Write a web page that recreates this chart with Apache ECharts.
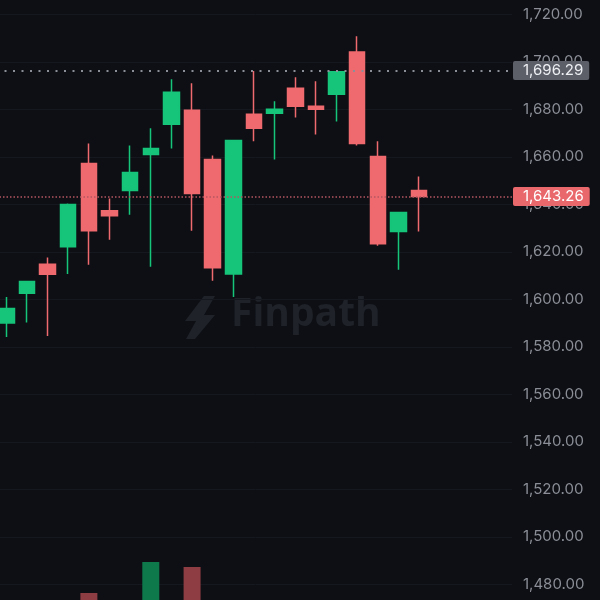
<!DOCTYPE html>
<html>
<head>
<meta charset="utf-8">
<script src="https://cdn.jsdelivr.net/npm/echarts@6/dist/echarts.min.js"></script>
<style>
html,body{margin:0;padding:0;background:#0d0f14;}
#main{width:600px;height:600px;}
</style>
</head>
<body>
<div id="main"></div>
<script>
// categories (sessions); last 4 are empty slots on the right
const categories = ['d1','d2','d3','d4','d5','d6','d7','d8','d9','d10','d11','d12','d13','d14','d15','d16','d17','d18','d19','d20','d21','e1','e2','e3','e4'];
// OHLC values: [open, close, low, high]
const opens  = [1590.0,1602.6,1614.8,1622.1,1657.2,1637.3,1645.8,1661.0,1673.7,1679.6,1658.9,1610.7,1677.9,1678.3,1688.9,1681.3,1686.3,1704.1,1660.1,1628.5,1645.8];
const closes = [1596.1,1607.5,1610.6,1639.9,1628.9,1635.2,1653.4,1663.5,1687.2,1644.5,1613.3,1666.9,1672.0,1680.0,1681.3,1680.0,1695.8,1665.6,1623.4,1636.5,1643.26];
const lows   = [1584.1,1590.2,1584.5,1610.7,1614.5,1625.1,1635.6,1613.7,1663.5,1628.9,1607.8,1601.0,1666.5,1658.9,1676.6,1669.4,1674.9,1664.8,1622.6,1612.4,1628.5];
const highs  = [1601.0,1607.5,1617.6,1640.3,1665.6,1642.4,1664.8,1672.0,1692.7,1691.0,1660.6,1666.9,1696.1,1683.4,1693.5,1691.8,1695.8,1710.8,1666.5,1636.5,1651.7];
// volume (relative units); only the tallest bars reach into view
const volumes = [40,35,45,60,87,30,50,118,70,113,75,78,45,30,35,28,55,72,65,50,25];
// price reference lines
const refPrev = 1696.29;
const lastPrice = 1643.26;
// y axis ticks
const yMin = 1480, yMax = 1720, yStep = 20;

const GREEN = '#16c47a', RED = '#ef6a6e';
const fmt = v => v.toLocaleString('en-US',{minimumFractionDigits:2, maximumFractionDigits:2});
const candleData = categories.map((c,i) => i < opens.length ? [opens[i], closes[i], lows[i], highs[i]] : '-');
const volData = categories.map((c,i) => i < volumes.length ? {
  value: volumes[i],
  itemStyle: { color: closes[i] >= opens[i] ? '#0e7a4c' : '#8e3d43' }
} : '-');

const chart = echarts.init(document.getElementById('main'), null, {renderer:'canvas'});
chart.setOption({
  backgroundColor: '#0d0f14',
  animation: false,
  grid: [
    { left: -4, right: 88, top: 14.3, bottom: 15.7, outerBoundsMode:'none', containLabel:false },
    { left: -4, right: 88, top: 540, bottom: 0, outerBoundsMode:'none', containLabel:false }
  ],
  xAxis: [
    { type:'category', data: categories, gridIndex:0, boundaryGap:true, show:false },
    { type:'category', data: categories, gridIndex:1, boundaryGap:true, show:false }
  ],
  yAxis: [
    {
      type:'value', gridIndex:0, position:'right', min:yMin, max:yMax, interval:yStep,
      axisLine:{show:false}, axisTick:{show:false},
      splitLine:{show:true, lineStyle:{color:'#15181e', width:1}},
      axisLabel:{
        color:'#8b8e96', fontFamily:'Inter', fontSize:15, margin:11, align:'left',
        formatter: fmt
      }
    },
    { type:'value', gridIndex:1, min:80, max:140, show:false, splitLine:{show:false} }
  ],
  graphic: [
    {
      type:'polygon', z:0, silent:true,
      shape:{ points:[[204,296],[215,296],[204,315],[215,315],[195,339],[186,339],[196,321],[185,321]] },
      style:{ fill:'#1f2229' }
    },
    {
      type:'text', z:0, silent:true, left:231, top:295,
      style:{ text:'Finpath', fill:'#1f2229', font:'bold 39px "Open Sans", Inter, sans-serif' }
    }
  ],
  series: [
    {
      type:'candlestick', xAxisIndex:0, yAxisIndex:0, data:candleData, barWidth:16,
      itemStyle:{ color:GREEN, color0:RED, borderColor:GREEN, borderColor0:RED, borderWidth:1.5 },
      markLine:{
        symbol:['none','none'], silent:true, animation:false,
        data:[
          { yAxis: refPrev,
            lineStyle:{ color:'#8c8f97', type:[2,6.5], width:2, cap:'butt' },
            label:{ show:true, position:'end', distance:1, formatter: () => fmt(refPrev),
              backgroundColor:'#5c5f68', color:'#eceef2', fontFamily:'Inter', fontSize:15,
              padding:[2,6,2,10], borderRadius:2 } },
          { yAxis: lastPrice,
            lineStyle:{ color:'#b45760', type:[1.5,2], width:1.5 },
            label:{ show:true, position:'end', distance:1, formatter: () => fmt(lastPrice),
              backgroundColor:'#e8686c', color:'#ffffff', fontFamily:'Inter', fontSize:15,
              padding:[2,6,2,10], borderRadius:2 } }
        ]
      }
    },
    {
      type:'bar', xAxisIndex:1, yAxisIndex:1, data:volData, barWidth:17, clip:true
    }
  ]
});
</script>
</body>
</html>
